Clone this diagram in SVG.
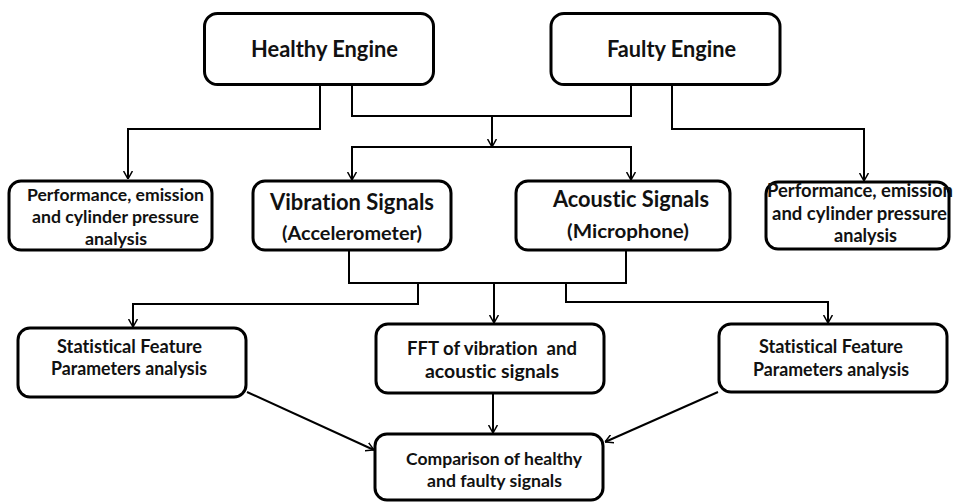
<svg xmlns="http://www.w3.org/2000/svg" width="955" height="503" viewBox="0 0 955 503">
<style>
.box{fill:#fff;stroke:#000;stroke-width:3}
.t{font-family:Lato,"Liberation Sans",sans-serif;font-weight:bold;fill:#111;white-space:pre;font-variant-ligatures:none;font-feature-settings:"liga" 0,"clig" 0}
.c{fill:none;stroke:#000;stroke-width:2}
</style>
<defs>
<marker id="ah" viewBox="0 0 10 12" refX="10" refY="6" markerWidth="8" markerHeight="10" markerUnits="userSpaceOnUse" orient="auto">
<path d="M0,0.5 L10,6 L0,11.5" fill="none" stroke="#000" stroke-width="1.8"/>
</marker>
</defs>
<rect width="955" height="503" fill="#fff"/>
<g id="connectors">
<path class="c" d="M320,85 V129 H128 V179" marker-end="url(#ah)"/>
<path class="c" d="M352,85 V116 H631 V85"/>
<path class="c" d="M492,116 V147" marker-end="url(#ah)"/>
<path class="c" d="M492,147 H352 V180" marker-end="url(#ah)"/>
<path class="c" d="M492,147 H631 V180" marker-end="url(#ah)"/>
<path class="c" d="M672,85 V129 H864 V181" marker-end="url(#ah)"/>
<path class="c" d="M349,250 V283 H626 V250"/>
<path class="c" d="M418,283 V304 H133 V327" marker-end="url(#ah)"/>
<path class="c" d="M494,283 V323" marker-end="url(#ah)"/>
<path class="c" d="M566,283 V302 H828 V323" marker-end="url(#ah)"/>
<path class="c" d="M493,393 V433" marker-end="url(#ah)"/>
<path class="c" d="M247,392 L374,450" marker-end="url(#ah)"/>
<path class="c" d="M718,392 L605,442" marker-end="url(#ah)"/>
</g>
<g id="healthy">
<rect class="box" x="204.5" y="13.5" width="229" height="71" rx="13"/>
<text class="t" x="251" y="57" font-size="22.5" textLength="147" lengthAdjust="spacingAndGlyphs">Healthy Engine</text>
</g>
<g id="faulty">
<rect class="box" x="551" y="13.5" width="229" height="71" rx="13"/>
<text class="t" x="607" y="57" font-size="22.5" textLength="129" lengthAdjust="spacingAndGlyphs">Faulty Engine</text>
</g>
<g id="perf-left">
<rect class="box" x="9" y="181" width="203" height="69" rx="12"/>
<text class="t" x="27" y="201" font-size="17.5" textLength="177" lengthAdjust="spacingAndGlyphs">Performance, emission</text>
<text class="t" x="32" y="223" font-size="17.5" textLength="167" lengthAdjust="spacingAndGlyphs">and cylinder pressure</text>
<text class="t" x="85" y="245" font-size="17.5" textLength="62" lengthAdjust="spacingAndGlyphs">analysis</text>
</g>
<g id="vibration">
<rect class="box" x="253" y="181" width="198" height="69" rx="12"/>
<text class="t" x="270" y="210" font-size="22" textLength="164" lengthAdjust="spacingAndGlyphs">Vibration Signals</text>
<text class="t" x="282" y="240" font-size="19.5" textLength="140" lengthAdjust="spacingAndGlyphs">(Accelerometer)</text>
</g>
<g id="acoustic">
<rect class="box" x="516" y="181" width="214" height="69" rx="12"/>
<text class="t" x="553" y="207" font-size="22" textLength="156" lengthAdjust="spacingAndGlyphs">Acoustic Signals</text>
<text class="t" x="567" y="238" font-size="19.5" textLength="122" lengthAdjust="spacingAndGlyphs">(Microphone)</text>
</g>
<g id="perf-right">
<rect class="box" x="766" y="182" width="183" height="67" rx="12"/>
<text class="t" x="767" y="197" font-size="18" textLength="186" lengthAdjust="spacingAndGlyphs">Performance, emission</text>
<text class="t" x="772" y="220" font-size="18" textLength="175" lengthAdjust="spacingAndGlyphs">and cylinder pressure</text>
<text class="t" x="834" y="242" font-size="18" textLength="63" lengthAdjust="spacingAndGlyphs">analysis</text>
</g>
<g id="stat-left">
<rect class="box" x="18" y="328" width="228" height="69" rx="12"/>
<text class="t" x="57" y="353" font-size="18" textLength="145" lengthAdjust="spacingAndGlyphs">Statistical Feature</text>
<text class="t" x="51" y="375" font-size="18" textLength="156" lengthAdjust="spacingAndGlyphs">Parameters analysis</text>
</g>
<g id="fft">
<rect class="box" x="376" y="324" width="228" height="69" rx="12"/>
<text class="t" x="407" y="355" font-size="19.5" textLength="170" lengthAdjust="spacingAndGlyphs">FFT of vibration  and</text>
<text class="t" x="425" y="378" font-size="19.5" textLength="134" lengthAdjust="spacingAndGlyphs">acoustic signals</text>
</g>
<g id="stat-right">
<rect class="box" x="719" y="324" width="228" height="68" rx="12"/>
<text class="t" x="759" y="353" font-size="18" textLength="144" lengthAdjust="spacingAndGlyphs">Statistical Feature</text>
<text class="t" x="753" y="376" font-size="18" textLength="156" lengthAdjust="spacingAndGlyphs">Parameters analysis</text>
</g>
<g id="comparison">
<rect class="box" x="375" y="434" width="228" height="66" rx="12"/>
<text class="t" x="406" y="465" font-size="17.5" textLength="176" lengthAdjust="spacingAndGlyphs">Comparison of healthy</text>
<text class="t" x="427" y="487" font-size="17.5" textLength="135" lengthAdjust="spacingAndGlyphs">and faulty signals</text>
</g>
</svg>
